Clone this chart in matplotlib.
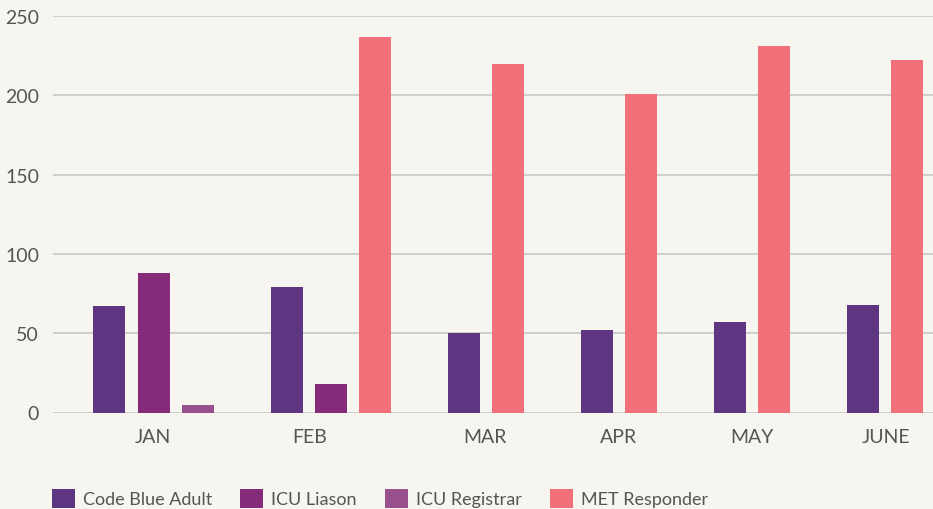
import matplotlib
matplotlib.use('Agg')
import matplotlib.pyplot as plt
from matplotlib.patches import Patch

plt.rcParams['font.family'] = ['Lato', 'DejaVu Sans']

months = ['JAN', 'FEB', 'MAR', 'APR', 'MAY', 'JUNE']
series_names = ['Code Blue Adult', 'ICU Liason', 'ICU Registrar', 'MET Responder']
code_blue = [67, 79, 50, 52, 57, 68]
icu_liason = [88, 18, None, None, None, None]
icu_registrar = [5, None, None, None, None, None]
met_responder = [None, 237, 220, 201, 231, 222]
y_ticks = [0, 50, 100, 150, 200, 250]

colors = ['#5e3580', '#862a7a', '#97508b', '#f2707a']
bg = '#f7f5f0'

# group centres / label spots on the x axis (pixel-like units, layout only)
group_x = [100.5, 278, 433, 566, 699, 832]
label_x = [100, 257, 432, 566, 699, 833]
slot = 44.3
bar_w = 32

fig = plt.figure(figsize=(9.33, 5.10), dpi=100, facecolor=bg)
ax = fig.add_axes([53 / 933, 96.5 / 510, 880 / 933, (413.5 - 17) / 510])
ax.set_facecolor(bg)

all_series = [code_blue, icu_liason, icu_registrar, met_responder]
for i, cx in enumerate(group_x):
    # missing values take no slot, the rest are centred on the group
    present = [(k, s[i]) for k, s in enumerate(all_series) if s[i] is not None]
    n = len(present)
    for j, (k, v) in enumerate(present):
        x = cx + (j - (n - 1) / 2) * slot
        ax.bar(x, v, width=bar_w, color=colors[k], zorder=3)

ax.set_xlim(0, 880)
ax.set_ylim(0, 250)
ax.set_yticks(y_ticks)
ax.set_yticklabels([str(t) for t in y_ticks])
ax.set_xticks(label_x)
ax.set_xticklabels(months)
ax.tick_params(axis='both', length=0, labelsize=14, labelcolor='#555555')
ax.tick_params(axis='y', pad=10)
ax.tick_params(axis='x', pad=11)
ax.grid(axis='y', color='#c8c8c8', linewidth=1.2, zorder=0)
for sp in ax.spines.values():
    sp.set_visible(False)

handles = [Patch(facecolor=c, edgecolor='none', label=n) for c, n in zip(colors, series_names)]
fig.legend(handles=handles, loc='upper left', bbox_to_anchor=(52 / 933, 1 - 490 / 510),
           ncol=4, frameon=False, fontsize=13, handlelength=1.27, handleheight=1.2,
           handletextpad=0.45, columnspacing=1.55, borderpad=0, borderaxespad=0,
           labelcolor='#555555')

fig.savefig('out.png', dpi=100, facecolor=bg)
